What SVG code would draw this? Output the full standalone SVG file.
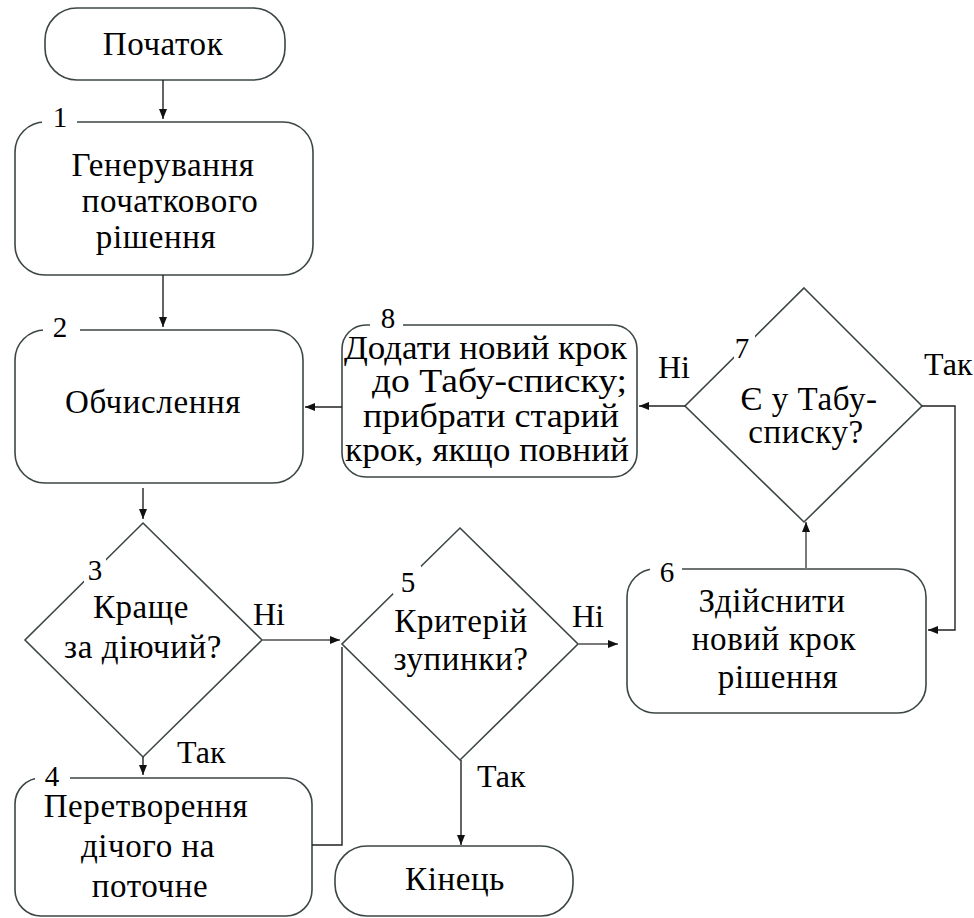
<svg xmlns="http://www.w3.org/2000/svg" width="974" height="918" viewBox="0 0 974 918" font-family="'Liberation Serif', 'Times New Roman', serif">
<style>
text{font-family:'Liberation Serif','Times New Roman',serif;fill:#000}
.shape{fill:#fff;stroke:#3c4646;stroke-width:1.6}
.t{font-size:33px;text-anchor:middle;letter-spacing:0.6px}
.t8{font-size:33px}
.n{font-size:29px;text-anchor:middle}
.lbl{font-size:32px}
.gap{fill:#fff;stroke:none}
.c{fill:none;stroke:#222;stroke-width:1.4}
.cg{fill:none;stroke:#7a7a7a;stroke-width:2}
</style>
<defs>
<marker id="ah" markerUnits="userSpaceOnUse" markerWidth="10" markerHeight="8" refX="10" refY="4" orient="auto">
<path d="M0,0 L10,4 L0,8 z" fill="#111"/>
</marker>
</defs>

<g id="start">
<rect class="shape" x="45" y="8" width="240" height="72" rx="32"/>
<text class="t" x="163" y="55">Початок</text>
</g>

<g id="n1">
<rect class="shape" x="15" y="122" width="298" height="153" rx="30"/>
<rect class="gap" x="42" y="116" width="35" height="12"/>
<text class="n" x="60" y="127">1</text>
<text class="t" x="163" y="176">Генерування</text>
<text class="t" x="170" y="212">початкового</text>
<text class="t" x="156" y="248">рішення</text>
</g>

<g id="n2">
<rect class="shape" x="15" y="330" width="288" height="153" rx="30"/>
<rect class="gap" x="43" y="324" width="37" height="12"/>
<text class="n" x="60" y="337">2</text>
<text class="t" x="153" y="413">Обчислення</text>
</g>

<g id="n3">
<polygon class="shape" points="143,523 262,640 143,757 25,640"/>
<rect class="gap" x="84" y="559" width="22" height="25"/>
<text class="n" x="95" y="580">3</text>
<text class="t" x="141" y="618">Краще</text>
<text class="t" x="143" y="658">за діючий?</text>
</g>

<g id="n4">
<rect class="shape" x="15" y="778" width="297" height="138" rx="26"/>
<rect class="gap" x="35" y="772" width="35" height="12"/>
<text class="n" x="52" y="786">4</text>
<text class="t" x="146" y="817">Перетворення</text>
<text class="t" x="148" y="857">дічого на</text>
<text class="t" x="150" y="897">поточне</text>
</g>

<g id="n5">
<polygon class="shape" points="460,528 578,644 460,760 342,644"/>
<rect class="gap" x="393" y="566" width="28" height="28"/>
<text class="n" x="408" y="592">5</text>
<text class="t" x="461" y="632">Критерій</text>
<text class="t" x="461" y="670">зупинки?</text>
</g>

<g id="n6">
<rect class="shape" x="627" y="569" width="299" height="144" rx="28"/>
<rect class="gap" x="650" y="563" width="32" height="12"/>
<text class="n" x="667" y="582">6</text>
<text class="t" x="772" y="612">Здійснити</text>
<text class="t" x="774" y="650">новий крок</text>
<text class="t" x="778" y="688">рішення</text>
</g>

<g id="n7">
<polygon class="shape" points="804,288 922,406 804,522 685,406"/>
<rect class="gap" x="734" y="334" width="21" height="25"/>
<text class="n" x="742" y="358">7</text>
<text class="t" x="809" y="410">Є у Табу-</text>
<text class="t" x="806" y="443">списку?</text>
</g>

<g id="n8">
<rect class="shape" x="342" y="325" width="295" height="152" rx="24"/>
<rect class="gap" x="370" y="319" width="33" height="12"/>
<text class="n" x="388" y="328">8</text>
<text class="t8" x="344" y="359" textLength="283" lengthAdjust="spacingAndGlyphs">Додати новий крок</text>
<text class="t8" x="372" y="392" textLength="255" lengthAdjust="spacingAndGlyphs">до Табу-списку;</text>
<text class="t8" x="363" y="427" textLength="256" lengthAdjust="spacingAndGlyphs">прибрати старий</text>
<text class="t8" x="345" y="461" textLength="284" lengthAdjust="spacingAndGlyphs">крок, якщо повний</text>
</g>

<g id="end">
<rect class="shape" x="335" y="846" width="238" height="70" rx="32"/>
<text class="t" x="455" y="890">Кінець</text>
</g>

<g id="connectors">
<path class="c" d="M163,80 V119" marker-end="url(#ah)"/>
<path class="c" d="M163,275 V327" marker-end="url(#ah)"/>
<path class="c" d="M143,488 V519" marker-end="url(#ah)"/>
<path class="cg" d="M262,640 H340" marker-end="url(#ah)"/>
<path class="c" d="M143,757 V775" marker-end="url(#ah)"/>
<path class="c" d="M312,845 H342 V647"/>
<path class="cg" d="M578,644 H618" marker-end="url(#ah)"/>
<path class="c" d="M461,760 V845" marker-end="url(#ah)"/>
<path class="cg" d="M806,569 V522" marker-end="url(#ah)"/>
<path class="c" d="M922,406 H955 V630 H928" marker-end="url(#ah)"/>
<path class="c" d="M685,406 H639" marker-end="url(#ah)"/>
<path class="c" d="M342,407 H305" marker-end="url(#ah)"/>
<text class="lbl" x="253" y="625">Ні</text>
<text class="lbl" x="177" y="763">Так</text>
<text class="lbl" x="572" y="627">Ні</text>
<text class="lbl" x="477" y="787">Так</text>
<text class="lbl" x="658" y="378">Ні</text>
<text class="lbl" x="924" y="375">Так</text>
</g>
</svg>
